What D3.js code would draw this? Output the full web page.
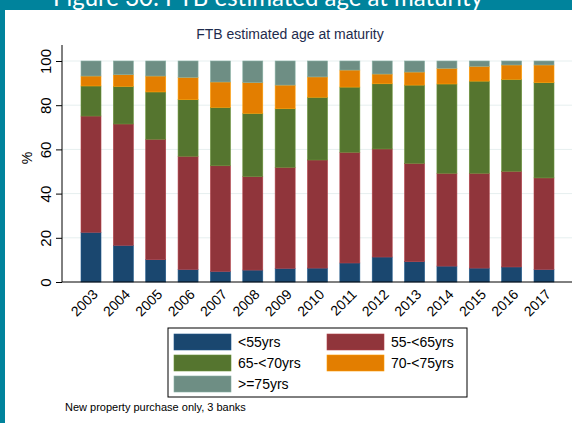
<!DOCTYPE html>
<html>
<head>
<meta charset="utf-8">
<script src="https://cdn.jsdelivr.net/npm/d3@7"></script>
<style>
body{margin:0;background:#fff;}
text{font-family:"Liberation Sans",Arial,sans-serif;}
</style>
</head>
<body>
<svg id="chart" width="572" height="423"></svg>
<script>
var years=["2003","2004","2005","2006","2007","2008","2009","2010","2011","2012","2013","2014","2015","2016","2017"];
var keys=["<55yrs","55-<65yrs","65-<70yrs","70-<75yrs",">=75yrs"];
var colours=["#1a476f","#90353b","#55752f","#e37e00","#6e8e84"];
// share of each age band, %
var under55=[22.5,16.6,10.1,5.7,4.8,5.4,6.2,6.3,8.6,11.3,9.2,7.2,6.3,6.8,5.7];
var age55to65=[52.6,54.9,54.5,51.2,47.8,42.3,45.7,48.9,50.1,48.9,44.5,42.0,42.9,43.3,41.4];
var age65to70=[13.6,17.0,21.4,25.6,26.4,28.6,26.5,28.4,29.5,29.5,35.4,40.4,41.7,41.6,43.1];
var age70to75=[4.5,5.3,7.2,10.1,11.5,13.9,10.7,9.2,7.7,4.4,5.9,7.1,6.7,6.5,8.0];
var over75=[6.8,6.2,6.8,7.4,9.5,9.8,10.9,7.2,4.1,5.9,5.0,3.3,2.4,1.8,1.8];
var yTicks=[0,20,40,60,80,100];

var rows=years.map(function(y,i){
  return {year:y,"<55yrs":under55[i],"55-<65yrs":age55to65[i],"65-<70yrs":age65to70[i],"70-<75yrs":age70to75[i],">=75yrs":over75[i]};
});

var svg=d3.select("#chart");

// teal page frame + clipped figure heading
svg.append("rect").attr("x",0).attr("y",0).attr("width",572).attr("height",10).attr("fill","#00839c");
svg.append("rect").attr("x",0).attr("y",0).attr("width",5).attr("height",423).attr("fill","#00839c");
svg.append("text").text("Figure 30: FTB estimated age at maturity")
  .attr("x",268).attr("y",6).attr("text-anchor","middle")
  .style("font-family","Lato,'Open Sans',sans-serif").style("font-size","25px").style("fill","#fff")
  .attr("textLength",430).attr("lengthAdjust","spacingAndGlyphs");

var x=d3.scalePoint().domain(years).range([91,544]);
var y=d3.scaleLinear().domain([0,100]).range([282,61]);
var bw=20;

svg.append("text").text("FTB estimated age at maturity")
  .attr("x",290).attr("y",39).attr("text-anchor","middle")
  .style("font-size","14px").style("fill","#1e2b4d");

// grid
svg.append("g").selectAll("line").data(yTicks.slice(1)).enter().append("line")
  .attr("x1",62).attr("x2",572).attr("y1",function(d){return y(d);}).attr("y2",function(d){return y(d);})
  .attr("stroke","#e6efef").attr("stroke-width",1);

var stack=d3.stack().keys(keys)(rows);

svg.append("g").selectAll("g").data(stack).enter().append("g")
  .attr("fill",function(d,i){return colours[i];})
  .attr("stroke",function(d,i){return d3.color(colours[i]).brighter(0.6);})
  .attr("stroke-width",0.6)
  .selectAll("rect").data(function(d){return d;}).enter().append("rect")
  .attr("x",function(d){return x(d.data.year)-bw/2;})
  .attr("width",bw)
  .attr("y",function(d){return y(d[1]);})
  .attr("height",function(d){return y(d[0])-y(d[1]);});

// y axis
var Yaxis=svg.append("g").attr("transform","translate(62,0)")
  .call(d3.axisLeft(y).tickValues(yTicks).tickSize(6).tickPadding(5));
Yaxis.select(".domain").attr("d","M0,45V282");
Yaxis.selectAll("text").attr("transform","rotate(-90,-11,0)")
  .attr("x",-11).attr("y",0).attr("dy","0").attr("text-anchor","middle")
  .style("font-size","15px").style("fill","#000");
svg.append("text").text("%").attr("transform","translate(32,158) rotate(-90)")
  .attr("text-anchor","middle").style("font-size","14px");

// x axis
var Xaxis=svg.append("g").attr("transform","translate(0,282)")
  .call(d3.axisBottom(x).tickSize(0).tickPadding(6));
Xaxis.select(".domain").attr("d","M62,0H572").attr("stroke","#000");
Xaxis.selectAll("text").attr("text-anchor","end")
  .attr("transform","translate(-4,2) rotate(-45)")
  .attr("dy","0.7em")
  .style("font-size","14px").style("fill","#000");

// legend
var lg=svg.append("g");
lg.append("rect").attr("x",168).attr("y",328).attr("width",299).attr("height",69)
  .attr("fill","#fff").attr("stroke","#000").attr("stroke-width",1);
var item=lg.selectAll("g.item").data(keys).enter().append("g").attr("class","item")
  .attr("transform",function(d,i){return "translate("+(i%2==0?174:327)+","+(334+Math.floor(i/2)*21)+")";});
item.append("rect").attr("width",57).attr("height",16)
  .attr("fill",function(d,i){return colours[i];})
  .attr("stroke",function(d,i){return d3.color(colours[i]).brighter(0.6);}).attr("stroke-width",0.6);
item.append("text").text(function(d){return d;}).attr("x",64).attr("y",13).style("font-size","14px");

svg.append("text").text("New property purchase only, 3 banks")
  .attr("x",65).attr("y",411).style("font-size","11px");
</script>
</body>
</html>
